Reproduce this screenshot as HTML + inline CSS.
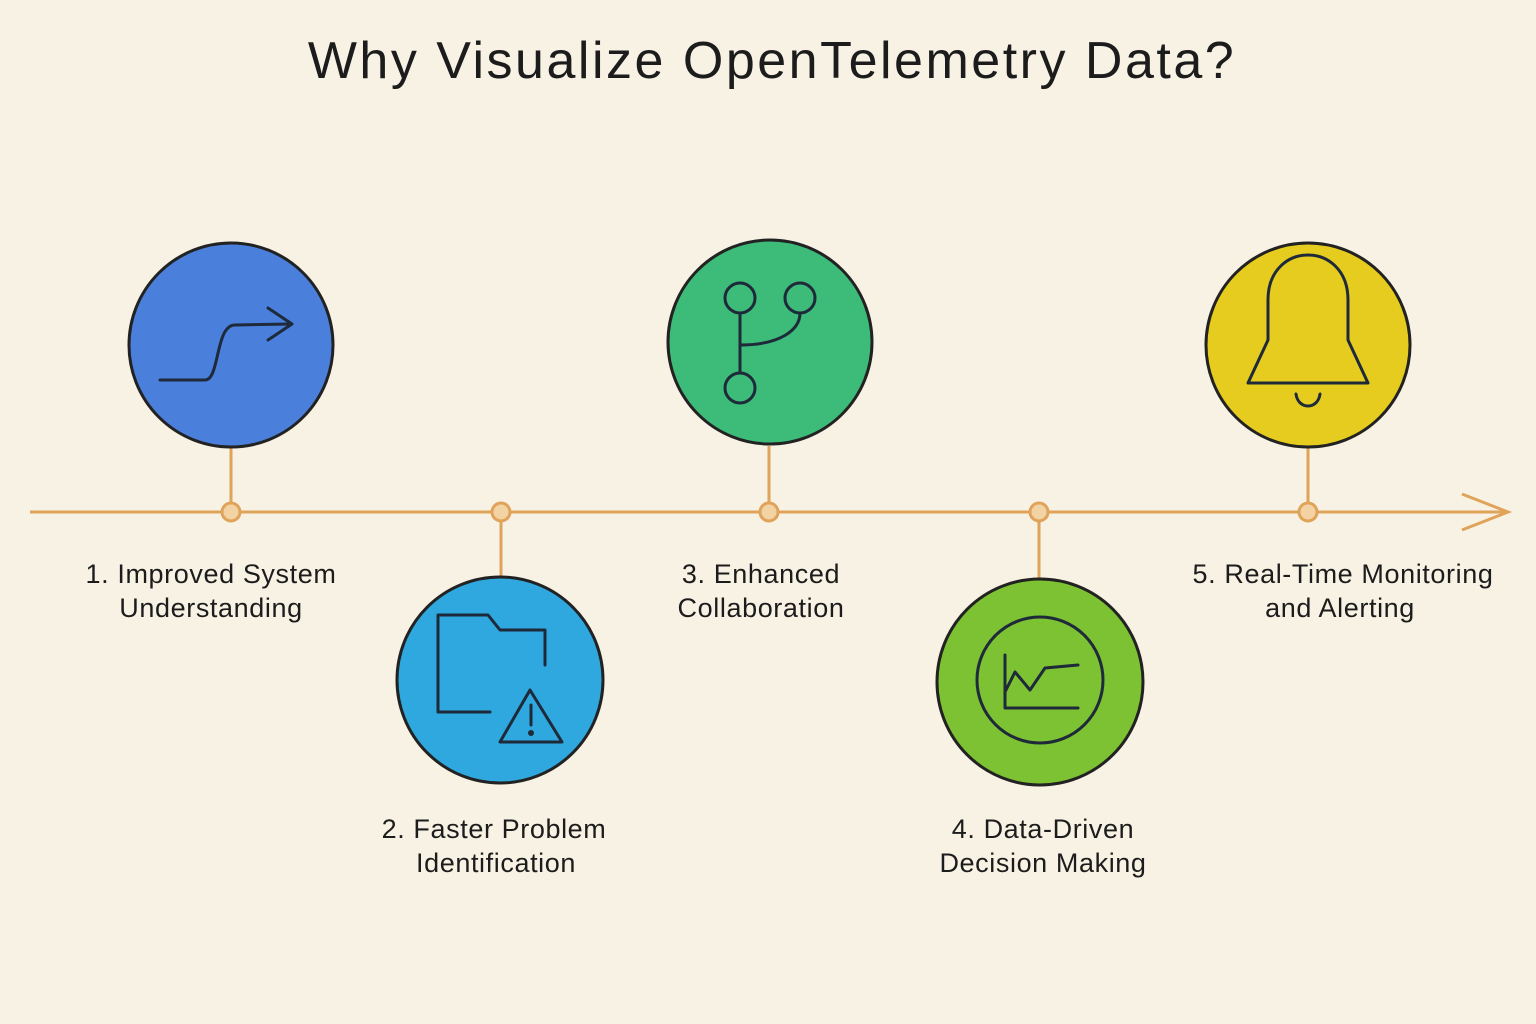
<!DOCTYPE html>
<html><head><meta charset="utf-8"><style>
html,body{margin:0;padding:0;background:#f8f2e4;}
svg{display:block}
text{font-family:"Liberation Sans",sans-serif;fill:#1c1c1c}
</style></head><body>
<svg width="1536" height="1024" viewBox="0 0 1536 1024" xmlns="http://www.w3.org/2000/svg">
<rect width="1536" height="1024" fill="#f8f2e4"/>
<text x="772" y="78" font-size="52" text-anchor="middle" letter-spacing="2.5">Why Visualize OpenTelemetry Data?</text>

<!-- timeline -->
<g stroke="#e0a35a" stroke-width="3" fill="none">
<line x1="30" y1="512" x2="1506" y2="512"/>
<polyline points="1462,494 1508,512 1462,530"/>
<line x1="231" y1="447" x2="231" y2="512"/>
<line x1="501" y1="512" x2="501" y2="577"/>
<line x1="769" y1="446" x2="769" y2="512"/>
<line x1="1039" y1="512" x2="1039" y2="579"/>
<line x1="1308" y1="447" x2="1308" y2="512"/>
</g>
<g fill="#f3d3a3" stroke="#e0a35a" stroke-width="3">
<circle cx="231" cy="512" r="9"/><circle cx="501" cy="512" r="9"/><circle cx="769" cy="512" r="9"/><circle cx="1039" cy="512" r="9"/><circle cx="1308" cy="512" r="9"/>
</g>

<!-- circles -->
<g stroke="#222" stroke-width="3">
<circle cx="231" cy="345" r="102" fill="#4a7fdc"/>
<circle cx="500" cy="680" r="103" fill="#2ea8de"/>
<circle cx="770" cy="342" r="102" fill="#3dbb78"/>
<circle cx="1040" cy="682" r="103" fill="#7dc232"/>
<circle cx="1308" cy="345" r="102" fill="#e6cc1e"/>
</g>

<!-- icons -->
<g stroke="#1e2a3a" stroke-width="3" fill="none" stroke-linecap="round" stroke-linejoin="round">
<path d="M160,380 L205,380 C220,380 215,325 235,325 L290,324"/>
<polyline points="268,308 292,324 268,340"/>
<path d="M545,665 L545,630 L500,630 L488,615 L438,615 L438,712 L490,712"/>
<path d="M530,690 L500,742 L562,742 Z"/>
<line x1="531" y1="705" x2="531" y2="725"/><circle cx="531" cy="733" r="1.5"/>
<circle cx="740" cy="298" r="15"/><circle cx="800" cy="298" r="15"/><circle cx="740" cy="388" r="15"/>
<line x1="740" y1="313" x2="740" y2="373"/>
<path d="M740,345 C780,345 800,330 800,313"/>
<circle cx="1040" cy="680" r="63"/>
<path d="M1005,655 L1005,708 L1078,708"/>
<path d="M1005,692 L1015,672 L1030,690 L1045,668 L1078,665"/>
<path d="M1248,383 L1268,340 L1268,300 C1268,240 1348,240 1348,300 L1348,340 L1368,383 Z"/>
<path d="M1296,394 C1298,410 1318,410 1320,394"/>
</g>

<!-- labels -->
<g font-size="27" text-anchor="middle" letter-spacing="0.6">
<text x="211" y="583">1. Improved System</text><text x="211" y="617">Understanding</text>
<text x="494" y="838">2. Faster Problem</text><text x="496" y="872">Identification</text>
<text x="761" y="583">3. Enhanced</text><text x="761" y="617">Collaboration</text>
<text x="1043" y="838">4. Data-Driven</text><text x="1043" y="872">Decision Making</text>
<text x="1343" y="583">5. Real-Time Monitoring</text><text x="1340" y="617">and Alerting</text>
</g>
</svg>
</body></html>
